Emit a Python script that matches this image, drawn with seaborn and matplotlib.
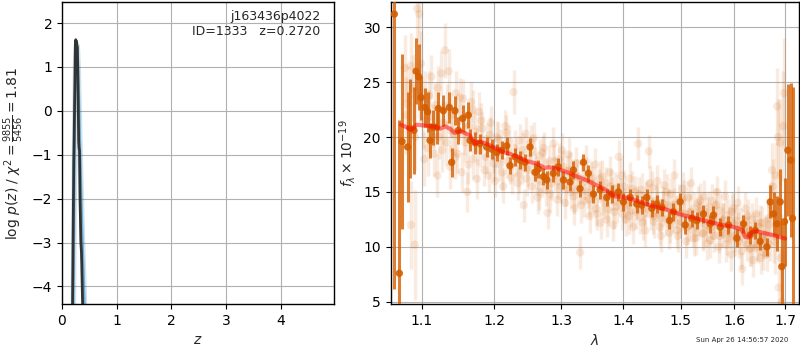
import matplotlib
matplotlib.use("Agg")
import matplotlib.pyplot as plt
import matplotlib.ticker as mticker
import seaborn as sns
import numpy as np
import pandas as pd

# ---------------- data ----------------
# left panel: log p(z)
pz_z = [0.190, 0.205, 0.212, 0.214, 0.222, 0.235, 0.245, 0.252, 0.258, 0.265, 0.272, 0.280,
        0.288, 0.296, 0.305, 0.312, 0.320, 0.330, 0.345, 0.355, 0.362, 0.368, 0.375, 0.385]
pz_logp = [-4.8, -2.6, -1.6, -1.2, -0.6, 0.6, 1.58, 1.62, 1.55, 1.58, 1.50, 1.45,
           0.9, 0.2, -0.7, -0.85, -0.9, -2.0, -3.0, -3.2, -3.5, -3.9, -4.3, -4.8]
pzb_z = [0.205, 0.220, 0.235, 0.250, 0.265, 0.280, 0.295, 0.310, 0.325, 0.340, 0.355, 0.370,
         0.385, 0.400, 0.415, 0.430]
pzb_logp = [-4.8, -2.4, -0.2, 1.1, 1.5, 1.45, 1.0, 0.2, -0.6, -1.4, -2.1, -2.8,
            -3.4, -4.0, -4.6, -5.0]

# right panel: binned spectrum
bin_wave = [1.0646, 1.0710, 1.0744, 1.0817, 1.0847, 1.0899, 1.0926, 1.0961, 1.0991, 1.1044,
            1.1079, 1.1110, 1.1150, 1.1199, 1.1222, 1.1289, 1.1371, 1.1403, 1.1448, 1.1494,
            1.1554, 1.1633, 1.1656, 1.1726, 1.1797, 1.1891, 1.1963, 1.2035, 1.2107, 1.2180,
            1.2228, 1.2302, 1.2376, 1.2450, 1.2525, 1.2600, 1.2651, 1.2727, 1.2778, 1.2880,
            1.2958, 1.3036, 1.3140, 1.3193, 1.3298, 1.3352, 1.3432, 1.3513, 1.3621, 1.3731,
            1.3813, 1.3924, 1.4007, 1.4120, 1.4233, 1.4318, 1.4404, 1.4491, 1.4578, 1.4666,
            1.4801, 1.4872, 1.4992, 1.5082, 1.5203, 1.5294, 1.5417, 1.5540, 1.5603, 1.5728,
            1.5886, 1.6046, 1.6174, 1.6304, 1.6402, 1.6501, 1.6633, 1.6700, 1.6766, 1.6833,
            1.6901, 1.6934, 1.6989, 1.7057, 1.7118, 1.7152]
bin_flux = [31.2, 7.6, 19.6, 19.1, 20.8, 20.6, 26.0, 25.5, 23.6, 22.7,
            22.3, 19.7, 20.9, 20.9, 22.6, 22.4, 22.7, 17.7, 22.4, 20.6,
            21.7, 22.0, 19.7, 19.5, 19.4, 19.1, 18.9, 18.6, 18.8, 19.2,
            17.4, 18.2, 17.9, 17.7, 19.1, 16.8, 17.1, 16.4, 16.1, 16.7,
            17.3, 16.1, 15.9, 17.0, 15.3, 17.7, 16.7, 14.8, 15.2, 14.5,
            14.8, 15.0, 14.1, 14.5, 13.9, 13.8, 14.5, 13.5, 13.9, 13.6,
            12.4, 13.2, 14.1, 12.0, 12.6, 12.4, 13.0, 12.1, 12.9, 11.8,
            12.0, 10.8, 12.1, 11.1, 11.5, 10.5, 10.0, 14.1, 13.0, 12.1,
            14.1, 8.2, 12.3, 18.8, 17.9, 12.6]
bin_err = [25.0, 14.0, 8.0, 5.0, 4.5, 4.0, 3.0, 3.0, 2.0, 1.8,
           1.8, 1.6, 1.6, 1.5, 1.5, 1.4, 1.4, 1.3, 1.3, 1.2,
           1.2, 1.2, 1.0, 1.0, 0.9, 0.9, 0.9, 0.8, 0.8, 0.8,
           0.8, 0.8, 0.8, 0.8, 0.8, 0.8, 0.8, 0.8, 0.8, 0.8,
           0.8, 0.8, 0.8, 0.8, 0.8, 0.8, 0.8, 0.8, 0.8, 0.8,
           0.8, 0.8, 0.8, 0.8, 0.8, 0.8, 0.8, 0.8, 0.8, 0.8,
           0.8, 0.8, 0.8, 0.8, 0.8, 0.8, 0.8, 0.8, 0.8, 0.8,
           0.8, 0.8, 0.8, 0.8, 0.8, 0.8, 0.8, 1.5, 2.0, 2.5,
           3.0, 4.0, 4.0, 6.0, 7.0, 12.0]

# right panel: individual exposure pixels (faint), exposure A
raw_wave = [1.078, 1.082, 1.086, 1.089, 1.091, 1.094, 1.097, 1.099, 1.102, 1.105,
            1.108, 1.110, 1.113, 1.116, 1.118, 1.121, 1.123, 1.126, 1.129, 1.131,
            1.133, 1.136, 1.138, 1.140, 1.143, 1.146, 1.148, 1.151, 1.154, 1.156,
            1.159, 1.162, 1.164, 1.167, 1.170, 1.172, 1.175, 1.178, 1.180, 1.183,
            1.186, 1.189, 1.192, 1.195, 1.198, 1.201, 1.204, 1.207, 1.210, 1.213,
            1.216, 1.219, 1.222, 1.225, 1.228, 1.231, 1.234, 1.237, 1.240, 1.243,
            1.246, 1.249, 1.252, 1.255, 1.258, 1.261, 1.264, 1.267, 1.270, 1.273,
            1.276, 1.279, 1.282, 1.285, 1.288, 1.291, 1.294, 1.297, 1.300, 1.303,
            1.306, 1.309, 1.312, 1.315, 1.318, 1.321, 1.324, 1.327, 1.330, 1.333,
            1.336, 1.339, 1.342, 1.345, 1.348, 1.351, 1.354, 1.357, 1.360, 1.363,
            1.366, 1.369, 1.372, 1.375, 1.378, 1.381, 1.384, 1.387, 1.390, 1.393,
            1.396, 1.399, 1.402, 1.405, 1.408, 1.411, 1.414, 1.417, 1.420, 1.423,
            1.426, 1.429, 1.432, 1.435, 1.438, 1.441, 1.444, 1.447, 1.450, 1.453,
            1.456, 1.459, 1.462, 1.465, 1.468, 1.471, 1.474, 1.477, 1.480, 1.483,
            1.486, 1.489, 1.492, 1.495, 1.498, 1.501, 1.504, 1.507, 1.510, 1.513,
            1.516, 1.519, 1.522, 1.525, 1.528, 1.531, 1.534, 1.537, 1.540, 1.543,
            1.546, 1.549, 1.552, 1.555, 1.558, 1.561, 1.564, 1.567, 1.570, 1.573,
            1.576, 1.579, 1.582, 1.585, 1.588, 1.591, 1.594, 1.597, 1.600, 1.603,
            1.606, 1.609, 1.612, 1.615, 1.618, 1.621, 1.624, 1.627, 1.630, 1.633,
            1.636, 1.639, 1.642, 1.645, 1.648, 1.651, 1.654, 1.657, 1.660, 1.663,
            1.666, 1.669, 1.672, 1.675, 1.678, 1.681, 1.684, 1.687, 1.690, 1.693,
            1.696]
raw_flux = [26.3, 23.0, 12.0, 24.5, 10.2, 31.7, 31.2, 26.7, 21.5, 23.5,
            19.0, 21.8, 25.5, 18.5, 22.9, 16.5, 20.0, 25.8, 21.3, 27.9,
            19.5, 26.0, 17.3, 22.0, 20.3, 24.0, 18.5, 21.5, 16.8, 23.5,
            19.5, 15.0, 21.0, 23.2, 18.0, 20.5, 16.2, 22.3, 18.8, 20.8,
            17.0, 19.8, 16.5, 21.3, 18.2, 16.0, 20.0, 17.5, 19.2, 15.5,
            21.0, 17.8, 19.6, 16.3, 24.1, 18.0, 15.8, 19.7, 17.2, 13.8,
            20.3, 17.0, 18.5, 15.5, 19.9, 16.8, 14.5, 18.3, 16.0, 19.0,
            15.2, 13.1, 17.8, 15.8, 19.4, 16.6, 14.3, 18.0, 15.5, 17.3,
            14.0, 16.9, 18.4, 15.0, 16.5, 13.5, 17.6, 15.3, 9.5, 16.2,
            14.2, 17.8, 15.0, 12.8, 16.3, 14.6, 17.5, 13.0, 15.6, 12.2,
            16.4, 14.0, 15.8, 13.4, 16.8, 14.9, 12.0, 15.3, 13.7, 18.2,
            14.8, 13.0, 15.5, 12.5, 14.3, 16.2, 13.3, 11.8, 15.0, 14.0,
            19.4, 12.7, 15.2, 13.5, 11.5, 14.6, 18.7, 13.0, 15.4, 12.3,
            14.2, 16.0, 12.9, 11.0, 14.0, 15.6, 12.5, 13.8, 11.3, 14.8,
            12.8, 16.5, 13.2, 11.0, 14.2, 12.3, 15.3, 13.0, 10.5, 14.5,
            12.0, 15.8, 11.5, 13.5, 10.8, 14.0, 12.5, 13.3, 11.3, 14.6,
            12.0, 10.3, 13.6, 11.8, 14.2, 11.0, 12.8, 15.0, 10.0, 13.3,
            11.5, 12.5, 14.6, 10.8, 12.9, 11.3, 9.3, 13.5, 11.0, 12.4,
            14.0, 10.5, 12.0, 8.0, 11.5, 13.5, 10.2, 11.9, 9.8, 12.5,
            8.8, 11.0, 13.0, 10.0, 11.8, 9.0, 12.2, 10.5, 11.2, 9.3,
            12.6, 10.2, 13.8, 15.5, 11.0, 16.5, 22.8, 6.3, 19.5, 5.0,
            21.0]
raw_err = [3.0, 3.5, 4.0, 3.0, 5.0, 3.0, 3.0, 3.0, 2.5, 2.5,
           2.5, 2.5, 2.0, 2.0, 2.0, 2.0, 2.0, 2.0, 2.0, 2.5,
           2.0, 2.0, 2.0, 2.0, 2.0, 2.0, 1.8, 1.8, 1.8, 1.8,
           1.8, 1.8, 1.8, 1.8, 1.8, 1.8, 1.8, 1.8, 1.5, 1.5,
           1.5, 1.5, 1.5, 1.5, 1.5, 1.5, 1.5, 1.5, 1.5, 1.5,
           1.5, 1.5, 1.5, 1.5, 2.0, 1.5, 1.5, 1.5, 1.5, 1.5,
           1.5, 1.5, 1.5, 1.5, 1.5, 1.5, 1.5, 1.5, 1.5, 1.5,
           1.5, 1.5, 1.5, 1.5, 1.5, 1.5, 1.5, 1.5, 1.5, 1.5,
           1.5, 1.5, 1.5, 1.5, 1.5, 1.5, 1.5, 1.5, 1.5, 1.5,
           1.5, 1.5, 1.5, 1.5, 1.5, 1.5, 1.5, 1.5, 1.5, 1.5,
           1.5, 1.5, 1.5, 1.5, 1.5, 1.5, 1.5, 1.5, 1.5, 1.5,
           1.5, 1.5, 1.5, 1.5, 1.5, 1.5, 1.5, 1.5, 1.5, 1.5,
           1.5, 1.5, 1.5, 1.5, 1.5, 1.5, 1.5, 1.5, 1.5, 1.5,
           1.5, 1.5, 1.5, 1.5, 1.5, 1.5, 1.5, 1.5, 1.5, 1.5,
           1.5, 1.5, 1.5, 1.5, 1.5, 1.5, 1.5, 1.5, 1.5, 1.5,
           1.5, 1.5, 1.5, 1.5, 1.5, 1.5, 1.5, 1.5, 1.5, 1.5,
           1.5, 1.5, 1.5, 1.5, 1.5, 1.5, 1.5, 1.5, 1.5, 1.5,
           1.5, 1.5, 1.5, 1.5, 1.5, 1.5, 1.5, 1.5, 1.5, 1.5,
           1.5, 1.5, 1.5, 1.5, 1.5, 1.5, 1.5, 1.5, 1.5, 1.5,
           1.5, 1.5, 1.5, 1.5, 1.5, 1.5, 1.5, 1.5, 1.5, 1.5,
           1.5, 1.5, 2.0, 2.5, 2.5, 3.0, 3.5, 3.5, 4.0, 5.0,
           5.0]

# exposure B (faint)
raw2_wave = [1.0795, 1.0855, 1.0915, 1.0975, 1.1035, 1.1095, 1.1155, 1.1215, 1.1275, 1.1335,
             1.1395, 1.1455, 1.1515, 1.1575, 1.1635, 1.1695, 1.1755, 1.1815, 1.1875, 1.1935,
             1.1995, 1.2055, 1.2115, 1.2175, 1.2235, 1.2295, 1.2355, 1.2415, 1.2475, 1.2535,
             1.2595, 1.2655, 1.2715, 1.2775, 1.2835, 1.2895, 1.2955, 1.3015, 1.3075, 1.3135,
             1.3195, 1.3255, 1.3315, 1.3375, 1.3435, 1.3495, 1.3555, 1.3615, 1.3675, 1.3735,
             1.3795, 1.3855, 1.3915, 1.3975, 1.4035, 1.4095, 1.4155, 1.4215, 1.4275, 1.4335,
             1.4395, 1.4455, 1.4515, 1.4575, 1.4635, 1.4695, 1.4755, 1.4815, 1.4875, 1.4935,
             1.4995, 1.5055, 1.5115, 1.5175, 1.5235, 1.5295, 1.5355, 1.5415, 1.5475, 1.5535,
             1.5595, 1.5655, 1.5715, 1.5775, 1.5835, 1.5895, 1.5955, 1.6015, 1.6075, 1.6135,
             1.6195, 1.6255, 1.6315, 1.6375, 1.6435, 1.6495, 1.6555, 1.6615, 1.6675, 1.6735,
             1.6795, 1.6855, 1.6915, 1.6975]
raw2_flux = [22.0, 26.5, 20.0, 24.2, 18.0, 23.8, 21.0, 24.5, 18.8, 22.8,
             20.6, 18.2, 23.6, 20.2, 17.5, 22.5, 19.3, 21.5, 18.2, 20.2,
             17.6, 19.8, 16.8, 20.4, 17.3, 19.0, 16.5, 18.8, 16.2, 19.5,
             17.5, 15.0, 18.6, 16.4, 14.8, 17.8, 16.0, 18.8, 15.3, 17.0,
             14.6, 16.4, 13.8, 16.0, 14.3, 15.8, 13.5, 16.2, 14.5, 12.5,
             15.5, 13.2, 15.0, 16.5, 13.8, 12.8, 15.3, 13.2, 14.8, 12.2,
             14.3, 15.8, 12.8, 14.0, 11.8, 13.5, 15.0, 12.0, 13.8, 11.5,
             13.0, 14.5, 11.8, 13.2, 10.8, 12.6, 14.2, 11.2, 12.9, 10.6,
             12.3, 13.8, 11.0, 12.4, 10.2, 12.0, 13.2, 10.8, 11.6, 9.6,
             11.2, 12.8, 9.9, 11.6, 10.3, 12.2, 9.5, 11.0, 12.0, 17.0,
             10.5, 20.0, 9.0, 24.0]
raw2_err = [3.5, 3.0, 3.0, 2.5, 2.5, 2.2, 2.0, 2.0, 2.0, 2.0,
            2.0, 2.0, 1.8, 1.8, 1.8, 1.8, 1.8, 1.6, 1.6, 1.6,
            1.6, 1.6, 1.6, 1.6, 1.6, 1.6, 1.6, 1.6, 1.6, 1.6,
            1.6, 1.6, 1.6, 1.6, 1.6, 1.6, 1.6, 1.6, 1.6, 1.6,
            1.6, 1.6, 1.6, 1.6, 1.6, 1.6, 1.6, 1.6, 1.6, 1.6,
            1.6, 1.6, 1.6, 1.6, 1.6, 1.6, 1.6, 1.6, 1.6, 1.6,
            1.6, 1.6, 1.6, 1.6, 1.6, 1.6, 1.6, 1.6, 1.6, 1.6,
            1.6, 1.6, 1.6, 1.6, 1.6, 1.6, 1.6, 1.6, 1.6, 1.6,
            1.6, 1.6, 1.6, 1.6, 1.6, 1.6, 1.6, 1.6, 1.6, 1.6,
            1.6, 1.6, 1.6, 1.6, 1.6, 1.6, 1.6, 1.8, 2.0, 2.5,
            3.0, 3.5, 4.0, 5.0]

# model
model_wave = [1.0731, 1.0804, 1.0869, 1.0934, 1.1022, 1.1133, 1.1199, 1.1244, 1.1312, 1.1380,
              1.1448, 1.1517, 1.1586, 1.1656, 1.1726, 1.1797, 1.1915, 1.2035, 1.2132, 1.2228,
              1.2351, 1.2475, 1.2626, 1.2753, 1.2804, 1.2932, 1.3088, 1.3245, 1.3405, 1.3567,
              1.3731, 1.3852, 1.4007, 1.4176, 1.4347, 1.4520, 1.4696, 1.4872, 1.5052, 1.5233,
              1.5417, 1.5603, 1.5791, 1.5981, 1.6142, 1.6207, 1.6272, 1.6337, 1.6435, 1.6566,
              1.6766, 1.7002]
model_flux = [21.12, 20.90, 20.67, 21.12, 21.06, 20.97, 20.91, 20.76, 20.97, 20.76,
              20.36, 20.55, 20.36, 20.15, 19.39, 19.60, 19.33, 18.94, 18.64, 18.48,
              18.18, 17.82, 17.58, 17.18, 17.27, 17.12, 16.82, 16.42, 16.06, 15.61,
              15.15, 14.61, 14.55, 14.30, 14.00, 13.70, 13.48, 13.18, 12.88, 12.67,
              12.42, 12.18, 11.97, 11.82, 11.58, 10.91, 10.85, 11.36, 11.42, 11.27,
              11.06, 10.76]

root_name = "j163436p4022"
obj_id = 1333
z_best = 0.2720
chi2_num, chi2_den, chi2_red = 9855, 5456, 1.81
wave_ticks = [1.1, 1.2, 1.3, 1.4, 1.5, 1.6, 1.7]
timestamp = "Sun Apr 26 14:56:57 2020"

# ---------------- plot ----------------
sns.set_style("white")
plt.rcParams.update({
    "font.family": ["DejaVu Sans"],
    "axes.edgecolor": "black",
    "axes.linewidth": 1.0,
    "xtick.bottom": True, "ytick.left": True,
    "xtick.color": "black", "ytick.color": "black",
    "xtick.labelsize": 10, "ytick.labelsize": 10,
    "axes.labelsize": 10,
    "grid.color": "#b0b0b0", "grid.linewidth": 0.8,
    "axes.grid": False,
})

G141 = (0.8352941176470589, 0.3686274509803922, 0.0)
BLUE = (0.0, 0.447, 0.698)

fig = plt.figure(figsize=(8, 3.5), dpi=100)
ax1 = fig.add_axes([0.0775, 0.1314, 0.34, 0.8629])
ax2 = fig.add_axes([0.4884, 0.1314, 0.5106, 0.8629])

# left panel
pzb = pd.DataFrame({"z": pzb_z, "logp": pzb_logp})
pzk = pd.DataFrame({"z": pz_z, "logp": pz_logp})
sns.lineplot(data=pzb, x="z", y="logp", ax=ax1, color=BLUE, alpha=0.2, lw=4,
             sort=False, estimator=None)
sns.lineplot(data=pzb, x="z", y="logp", ax=ax1, color=BLUE, alpha=0.45, lw=1.8,
             sort=False, estimator=None)
sns.lineplot(data=pzk, x="z", y="logp", ax=ax1, color="#333333", lw=2,
             sort=False, estimator=None)
ax1.set_xlim(0, 4.97)
ax1.set_ylim(-4.4, 2.48)
ax1.set_xticks([0, 1, 2, 3, 4])
ax1.set_yticks([-4, -3, -2, -1, 0, 1, 2])
ax1.grid(True)
ax1.set_xlabel(r"$z$")
ax1.set_ylabel(r"log $p(z)$" + " / " +
               r"$\chi^2=\frac{%d}{%d}=%.2f$" % (chi2_num, chi2_den, chi2_red))
ax1.text(0.95, 0.975, "%s\nID=%d   z=%.4f" % (root_name, obj_id, z_best),
         transform=ax1.transAxes, ha="right", va="top", fontsize=9)

# right panel
raw = pd.DataFrame({"w": raw_wave + raw2_wave, "f": raw_flux + raw2_flux,
                    "e": raw_err + raw2_err})
binned = pd.DataFrame({"w": bin_wave, "f": bin_flux, "e": bin_err})
mod = pd.DataFrame({"w": model_wave, "f": model_flux})

ax2.vlines(raw["w"], raw["f"] - raw["e"], raw["f"] + raw["e"], color=G141,
           alpha=0.12, lw=2.5, zorder=2)
sns.scatterplot(data=raw, x="w", y="f", ax=ax2, color=G141, alpha=0.13, s=36,
                edgecolor="none", zorder=2)
ax2.vlines(binned["w"], binned["f"] - binned["e"], binned["f"] + binned["e"], color=G141,
           alpha=0.8, lw=2.2, zorder=3)
sns.scatterplot(data=binned, x="w", y="f", ax=ax2, color=G141, alpha=0.9, s=28,
                edgecolor="none", zorder=3)
sns.lineplot(data=mod, x="w", y="f", ax=ax2, color="red", alpha=0.5, lw=3,
             sort=False, estimator=None, zorder=4)

ax2.set_xscale("log")
ax2.set_xlim(1.06, 1.729)
ax2.set_ylim(4.8, 32.3)
ax2.xaxis.set_major_locator(mticker.FixedLocator(wave_ticks))
ax2.xaxis.set_major_formatter(mticker.FixedFormatter([str(t) for t in wave_ticks]))
ax2.xaxis.set_minor_locator(mticker.NullLocator())
ax2.set_yticks([5, 10, 15, 20, 25, 30])
ax2.grid(True)
ax2.set_xlabel(r"$\lambda$")
ax2.set_ylabel(r"$f_\lambda \times 10^{-19}$")
for a in (ax1, ax2):
    for s in a.spines.values():
        s.set_visible(True)
        s.set_color("black")

fig.text(0.985, 0.02, timestamp, ha="right", va="bottom", fontsize=5)

fig.savefig("out.png", dpi=100)
